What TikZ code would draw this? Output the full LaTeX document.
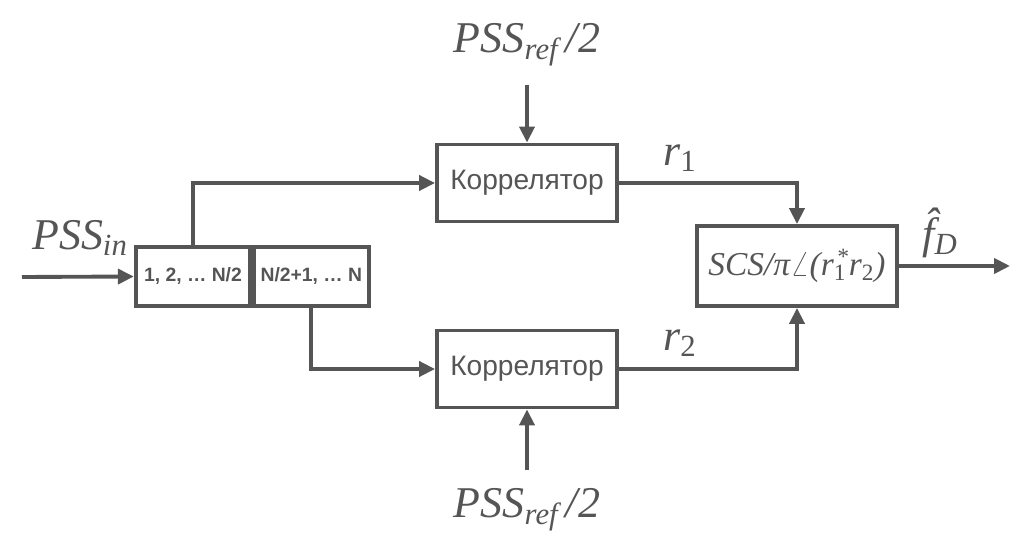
\documentclass[tikz,border=0pt]{standalone}
\usepackage{fontspec}
\setmainfont{Liberation Serif}
\setsansfont{Liberation Sans}
\usetikzlibrary{arrows.meta}
\definecolor{linegray}{HTML}{555555}

\begin{document}
\begin{tikzpicture}[x=0.02cm, y=-0.02cm, color=linegray,
    corrbox/.style={draw, line width=2.2pt, minimum width=3.6cm, minimum height=1.54cm,
      font=\sffamily\fontsize{16}{19}\selectfont},
    halfbox/.style={draw, line width=2.2pt, minimum width=2.29cm, minimum height=1.18cm,
      inner sep=0pt, font=\sffamily\bfseries\fontsize{11}{13}\selectfont},
    sig/.style={line width=2.2pt, -{Triangle[length=0.32cm, width=0.3cm]}},
    biglbl/.style={font=\itshape\fontsize{25}{29}\selectfont}]
    \useasboundingbox (0,0) rectangle (1019,553);

    % splitter
    \node[halfbox] (half1) at (193,276.5) {1, 2, \dots\ N/2};
    \node[halfbox, anchor=west] (half2) at (half1.east) {N/2+1, \dots\ N};

    % correlators and output block
    \node[corrbox] (cor1) at (527,183) {Коррелятор};
    \node[corrbox] (cor2) at (527,369) {Коррелятор};
    \node[corrbox, minimum width=4cm, minimum height=1.6cm,
      font=\itshape\fontsize{19}{22}\selectfont] (scs) at (797,266)
      {SCS/π$\angle$(r\textsubscript{\upshape 1}\kern-0.3em\textsuperscript{*}r\textsubscript{\upshape 2})};

    % labels
    \node[biglbl] (pssin) at (80,238) {PSS\textsubscript{in}};
    \node[biglbl] (ref1) at (527,45) {PSS\textsubscript{ref}\,/2};
    \node[biglbl] (ref2) at (527,510) {PSS\textsubscript{ref}\,/2};
    \node[biglbl] (r1) at (680,158) {r\textsubscript{\upshape 1}};
    \node[biglbl] (r2) at (680,343) {r\textsubscript{\upshape 2}};
    \node[biglbl] (fd) at (940,233) {\^{f}\textsubscript{D}};

    \coordinate (in) at (22,277);
    \coordinate (ref1end) at (527,85);
    \coordinate (ref2end) at (527,470);
    \coordinate (out) at (1010,268);

    % connections
    \draw[sig] (in) -- (half1.west);
    \draw[sig] (half1.north) |- (cor1.west);
    \draw[sig] (half2.south) |- (cor2.west);
    \draw[sig] (ref1end) -- (cor1.north);
    \draw[sig] (ref2end) -- (cor2.south);
    \draw[sig] (cor1.east) -| (scs.north);
    \draw[sig] (cor2.east) -| (scs.south);
    \draw[sig] (scs.east) -- (scs.east -| out);
\end{tikzpicture}
\end{document}
